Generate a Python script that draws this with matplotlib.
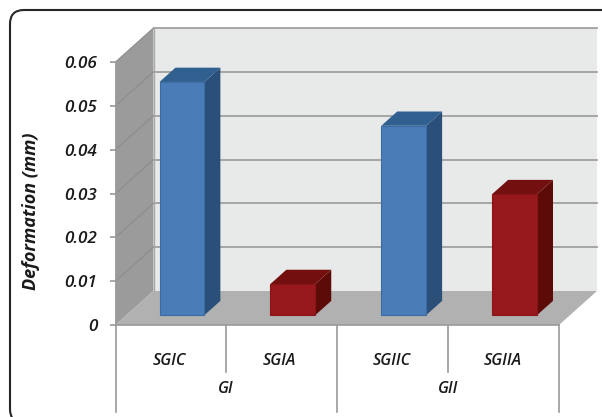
import matplotlib
matplotlib.use("Agg")
import matplotlib.pyplot as plt
from matplotlib.patches import Polygon, FancyBboxPatch

subgroups = ["SGIC", "SGIA", "SGIIC", "SGIIA"]
groups = ["GI", "GII"]
values = [0.0532, 0.0071, 0.0432, 0.0276]
y_ticks = [0, 0.01, 0.02, 0.03, 0.04, 0.05, 0.06]
y_labels = ["0", "0.01", "0.02", "0.03", "0.04", "0.05", "0.06"]
y_title = "Deformation (mm)"

FONT = "Open Sans"
W, H = 602, 417
fig = plt.figure(figsize=(W / 100, H / 100), dpi=100, facecolor="white")

# page-wide overlay for the rounded frame (pixel coordinates)
bg = fig.add_axes([0, 0, 1, 1])
bg.set_xlim(0, W); bg.set_ylim(H, 0); bg.axis("off")
bg.add_patch(FancyBboxPatch((10, 10), 620, 413, boxstyle="round,pad=0,rounding_size=14",
                            fc="white", ec="#262626", lw=1.5))

# front plane of the 3-D box
L, R, T, B = 115.5, 559.0, 62.0, 325.0
ax = fig.add_axes([L / W, 1 - B / H, (R - L) / W, (B - T) / H])
ax.set_xlim(0, 4); ax.set_ylim(0, 0.06)
ax.patch.set_alpha(0)
for s in ("top", "right", "bottom"):
    ax.spines[s].set_visible(False)

DX = 38 / ((R - L) / 4)
DY = 34 / ((B - T) / 0.06)

def pt(x, y, d=0.0):
    return (x + d * DX, y + d * DY)

def poly(points, fc, ec="none", lw=0.0, z=1):
    ax.add_patch(Polygon(points, closed=True, fc=fc, ec=ec, lw=lw, zorder=z, clip_on=False))

ymax = y_ticks[-1]
poly([pt(0, 0, 1), pt(4, 0, 1), pt(4, ymax, 1), pt(0, ymax, 1)], "#e8e9e9")
poly([pt(0, 0), pt(0, 0, 1), pt(0, ymax, 1), pt(0, ymax)], "#9b9b9b")
poly([pt(0, 0), pt(4, 0), pt(4, 0, 1), pt(0, 0, 1)], "#b1b1b1")

for v in y_ticks[1:]:
    x0, y0 = pt(0, v, 1); x1, y1 = pt(4, v, 1)
    ax.plot([x0, x1], [y0, y1], color="#a0a0a0", lw=1.3, zorder=2, clip_on=False)
    xa, ya = pt(0, v)
    ax.plot([xa, x0], [ya, y0], color="#8c8c8c", lw=0.8, zorder=2, clip_on=False)
x0, y0 = pt(0, 0, 1)
ax.plot([x0, x0], [y0, pt(0, ymax, 1)[1]], color="#a8a8a8", lw=1.0, zorder=2, clip_on=False)

# bars
BLUE = ("#4a7db8", "#30608f", "#2a5079", "#3a6ca3")
RED = ("#97191e", "#73100f", "#5d0b08", "#8a1519")
centers = [0.5, 1.5, 2.5, 3.5]
WIDTH = 0.405
D0, D1 = 0.29, 0.71
for i, (c, v) in enumerate(zip(centers, values)):
    f, t, s, e = BLUE if i % 2 == 0 else RED
    a, b = c - WIDTH / 2, c + WIDTH / 2
    poly([pt(b, 0, D0), pt(b, 0, D1), pt(b, v, D1), pt(b, v, D0)], s, z=3)
    poly([pt(a, v, D0), pt(b, v, D0), pt(b, v, D1), pt(a, v, D1)], t, z=3)
    poly([pt(a, 0, D0), pt(b, 0, D0), pt(b, v, D0), pt(a, v, D0)], f, ec=e, lw=0.8, z=4)

# axes furniture
ax.spines["left"].set_color("#9a9a9a")
ax.spines["left"].set_linewidth(1.2)
ax.set_yticks(y_ticks)
ax.set_yticklabels(y_labels, fontfamily=FONT, fontstyle="italic", fontweight="semibold",
                   fontsize=12.3, color="#1a1a1a")
ax.tick_params(axis="y", length=4, width=1.2, color="#9a9a9a", pad=9)

ax.set_xticks([0.49, 1.48, 2.49, 3.49])
ax.set_xticklabels(subgroups, fontfamily=FONT, fontstyle="italic", fontweight="semibold",
                   fontsize=11.5, color="#1a1a1a")
ax.tick_params(axis="x", length=0, pad=20.5)

LONG, SHORT = -0.0198, -0.0107
for x, low in zip([0, 1, 2, 3, 4], [LONG, SHORT, LONG, SHORT, LONG]):
    ax.plot([x, x], [0, low], color="#9a9a9a", lw=1.2, clip_on=False, zorder=1)
ax.plot([0, 4], [0, 0], color="#9a9a9a", lw=1.2, clip_on=False, zorder=2.5)

for x, g in zip([0.99, 3.0], groups):
    ax.text(x, -0.0145, g, ha="center", va="center", fontfamily=FONT, fontstyle="italic",
            fontweight="semibold", fontsize=11.5, color="#1a1a1a", clip_on=False)

fig.text(31 / W, 1 - 211 / H, y_title, rotation=90, ha="center", va="center", fontfamily=FONT,
         fontstyle="italic", fontweight="bold", fontsize=13, color="#1a1a1a")

fig.savefig("out.png", dpi=100)
